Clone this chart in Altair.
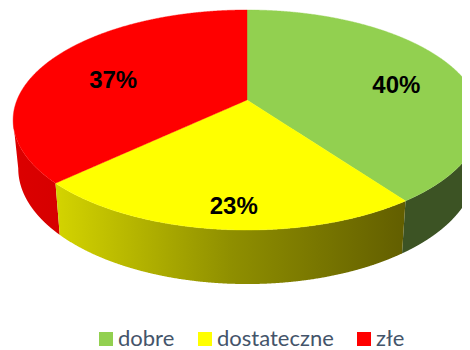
import numpy as np
import pandas as pd
import altair as alt

categories = ["dobre", "dostateczne", "złe"]
shares = [40, 23, 37]
top_colors = ["#92D050", "#FFFF00", "#FF0000"]
label_radius = [0.70, 0.80, 0.68]

# Perspective model of the tilted disc
CX, CY, RX, RY, K = 247.0, 100.0, 230.0, 106.4, -0.1818


def project(theta, r=1.0):
    u, v = r * np.sin(theta), -r * np.cos(theta)
    w = 1 + K * v
    return CX + RX * u / w, CY + RY * v / w


def lower_rim(x, y):
    return CX + 0.978 * (x - CX), y + 52 + (y - 190) * 0.05


def monotone_area(px, py, name):
    px, py = np.array(px, float), np.array(py, float)
    n = len(px)
    a, b = int(np.argmin(px)), int(np.argmax(px))
    c1 = [(a + i) % n for i in range((b - a) % n + 1)]
    c2 = [(a - i) % n for i in range((a - b) % n + 1)]
    grid = np.unique(np.concatenate([px, np.linspace(px.min(), px.max(), 300)]))
    y1 = np.interp(grid, px[c1], py[c1])
    y2 = np.interp(grid, px[c2], py[c2])
    return pd.DataFrame({"x": grid, "y": y1, "y2": y2, "name": name})


edges = np.cumsum([0] + shares) / 100 * 2 * np.pi
slices = []
for i, name in enumerate(categories):
    th = np.linspace(edges[i], edges[i + 1], 200)
    rx, ry = project(th)
    px = np.concatenate([[CX], rx])
    py = np.concatenate([[CY], ry])
    px[0] += 1e-3 * np.sign(px[0] - px.mean())
    slices.append(monotone_area(px, py, name))
top_df = pd.concat(slices)


def wall(t0, t1, name):
    th = np.linspace(t0, t1, 200)
    xt, yt = project(th)
    xb, yb = lower_rim(xt, yt)
    return monotone_area(np.concatenate([xt, xb[::-1]]), np.concatenate([yt, yb[::-1]]), name)


th_all = np.linspace(0, 2 * np.pi, 3000)
xa, _ = project(th_all)
th_right, th_left = th_all[np.argmax(xa)], th_all[np.argmin(xa)]

wall_red = wall(edges[2], th_left, categories[2])
wall_green = wall(th_right, edges[1], categories[0])
wall_yellow = wall(edges[1], edges[2], categories[1])

mids = (edges[:-1] + edges[1:]) / 2
lx, ly = [], []
for m, r, dx in zip(mids, label_radius, [2, 7, 3]):
    a, b = project(m, r)
    lx.append(a + dx)
    ly.append(b + 8)
label_df = pd.DataFrame({"x": lx, "y": ly, "t": [f"{s}%" for s in shares]})

xs = alt.Scale(domain=[8, 462], nice=False, zero=False)
ys = alt.Scale(domain=[8, 350], reverse=True, nice=False, zero=False)
X = alt.X("x:Q", scale=xs, axis=None)
Y = alt.Y("y:Q", scale=ys, axis=None, stack=None)
Y2 = alt.Y2("y2:Q")


def grad(*stops):
    return alt.Gradient(gradient="linear", x1=0, x2=1, y1=0, y2=0,
                        stops=[alt.GradientStop(offset=o, color=c) for o, c in stops])


def wall_layer(df, fill):
    return alt.Chart(df).mark_area(clip=True, fill=fill, interpolate="linear").encode(x=X, y=Y, y2=Y2)


top = alt.Chart(top_df).mark_area(clip=True, interpolate="linear", strokeWidth=0.4).encode(
    x=X, y=Y, y2=Y2,
    color=alt.Color("name:N", sort=None,
                    scale=alt.Scale(domain=categories, range=top_colors),
                    legend=alt.Legend(orient="none", legendX=87, legendY=320, direction="horizontal",
                                      title=None, symbolType="square", symbolSize=196,
                                      symbolStrokeWidth=0, symbolOpacity=1, labelFont="Lato",
                                      labelFontSize=22, labelColor="#44546A", labelOffset=1,
                                      columnPadding=19, padding=0)),
    stroke=alt.Color("name:N", sort=None,
                     scale=alt.Scale(domain=categories, range=top_colors), legend=None),
)

labels = alt.Chart(label_df).mark_text(font="Liberation Sans", fontWeight="bold", fontSize=24,
                                       color="black", baseline="middle", align="center").encode(
    x=X, y=alt.Y("y:Q", scale=ys, axis=None), text="t:N")

chart = alt.layer(
    wall_layer(wall_red, grad((0, "#DC0000"), (1, "#D60000"))),
    wall_layer(wall_green, grad((0, "#3C5324"), (1, "#3C5324"))),
    wall_layer(wall_yellow, grad((0, "#D4D400"), (0.5, "#8F8F00"), (1, "#625E00"))),
    top,
    labels,
).properties(width=454, height=342, padding=0, autosize=alt.AutoSizeParams(type="none")
).configure_view(stroke=None)

chart.save("out.html", embed_options={"renderer": "svg", "actions": False})
